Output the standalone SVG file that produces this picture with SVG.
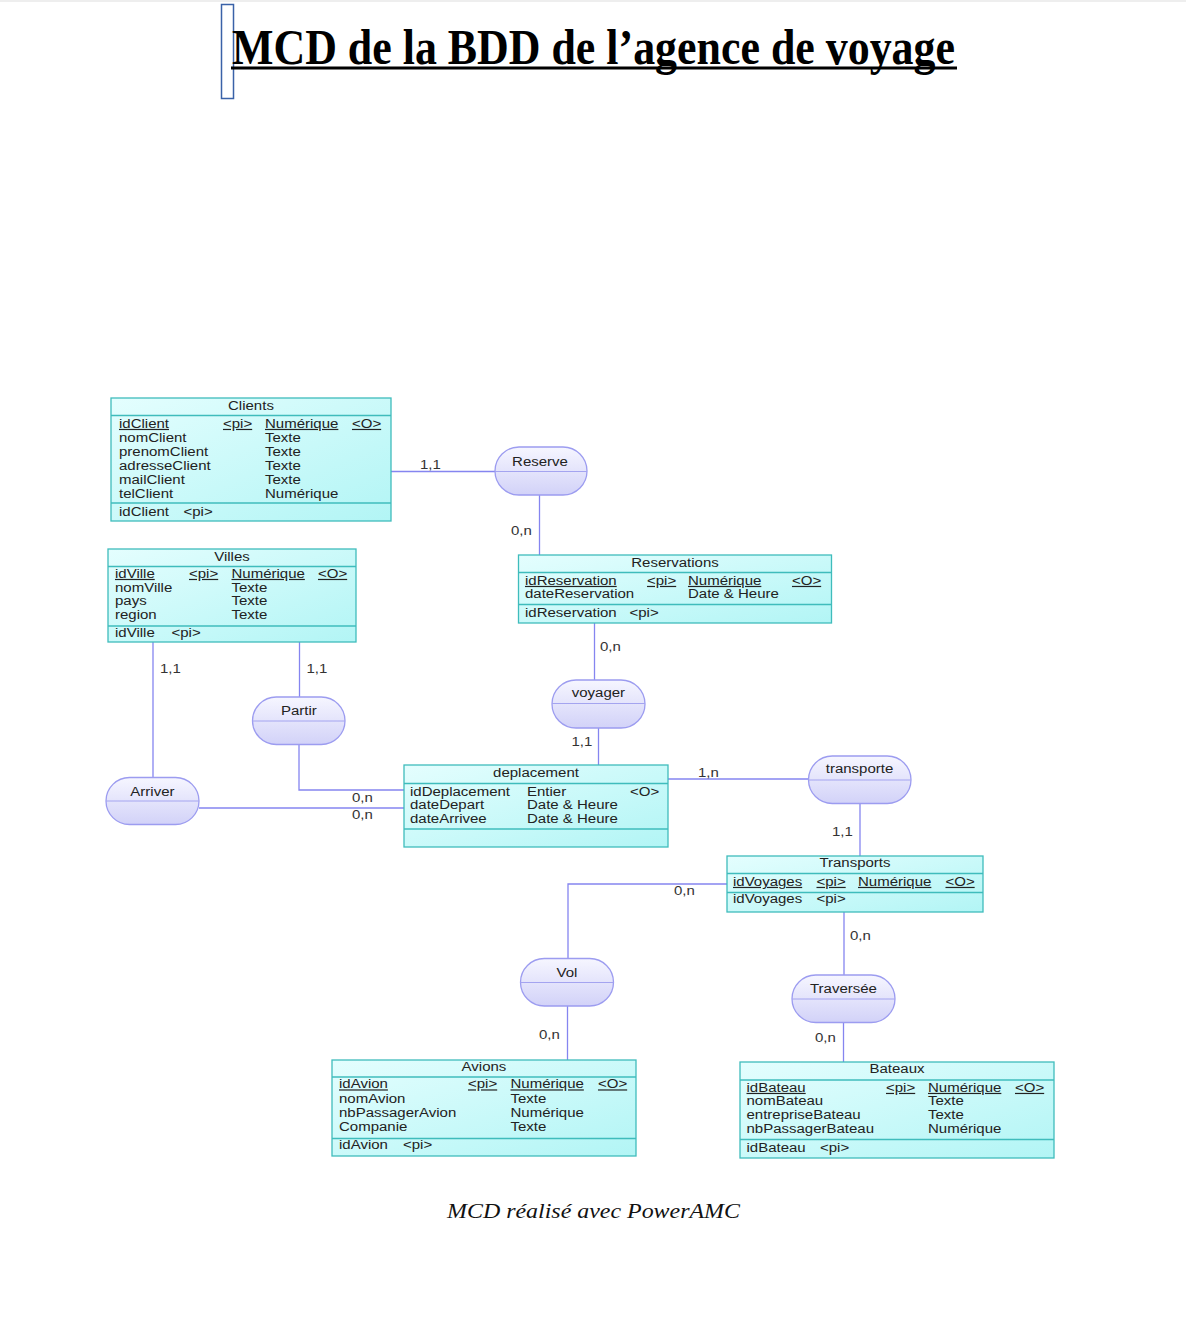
<svg xmlns="http://www.w3.org/2000/svg" width="1186" height="1320" viewBox="0 0 1186 1320">
<defs>
<linearGradient id="gEnt" x1="0" y1="0" x2="1" y2="1">
<stop offset="0" stop-color="#e4fefe"/>
<stop offset="1" stop-color="#b2f5f5"/>
</linearGradient>
<linearGradient id="gRel" x1="0" y1="0" x2="0" y2="1">
<stop offset="0" stop-color="#f6f6ff"/>
<stop offset="1" stop-color="#d2d2f8"/>
</linearGradient>
<style>
.t { font-family: "Liberation Sans", Arial, sans-serif; font-size: 12px; fill: #222; transform-box: fill-box; transform-origin: 0 0; transform: scaleX(1.25); }
.c { text-anchor: middle; transform-origin: 50% 50%; }
.u { text-decoration: underline; }
.ent { fill: url(#gEnt); stroke: #3fbcbc; stroke-width: 1.3; }
.sep { stroke: #3fbcbc; stroke-width: 1.3; }
.rel { fill: url(#gRel); stroke: #9c9cf0; stroke-width: 1.3; }
.rsep { stroke: #a4a4f0; stroke-width: 1; }
.ln { stroke: #8585f0; stroke-width: 1.3; fill: none; }
.lbl { fill: #333; }
</style>
</defs>
<rect x="0" y="0" width="1186" height="1320" fill="#ffffff"/>
<rect x="0" y="0" width="1186" height="2" fill="#eeeeee"/>

<g id="title">
<rect x="221.5" y="4.5" width="12" height="94" fill="none" stroke="#3a62a8" stroke-width="1.5"/>
<text x="232" y="64" font-family="'Liberation Serif', 'Times New Roman', serif" font-weight="bold" font-size="50" textLength="723" lengthAdjust="spacingAndGlyphs" fill="#000">MCD de la BDD de l’agence de voyage</text>
<rect x="231" y="66.5" width="726" height="3" fill="#000"/>
</g>

<g id="connectors">
<path class="ln" d="M391,471.5 H495"/>
<path class="ln" d="M539.5,495 V555"/>
<path class="ln" d="M594.5,623 V680"/>
<path class="ln" d="M598.5,728 V765"/>
<path class="ln" d="M668,779 H808.5"/>
<path class="ln" d="M860,803.5 V856"/>
<path class="ln" d="M727,884 H568 V958.5"/>
<path class="ln" d="M567.5,1006 V1060"/>
<path class="ln" d="M844,912 V975"/>
<path class="ln" d="M843.5,1022.5 V1062"/>
<path class="ln" d="M153,642 V777.5"/>
<path class="ln" d="M299.5,642 V697"/>
<path class="ln" d="M299,744.5 V790 H404"/>
<path class="ln" d="M199,808 H404"/>
<text class="t lbl" x="420" y="469">1,1</text>
<text class="t lbl" x="511" y="535">0,n</text>
<text class="t lbl" x="600" y="651">0,n</text>
<text class="t lbl" x="571.5" y="746">1,1</text>
<text class="t lbl" x="698" y="777">1,n</text>
<text class="t lbl" x="832" y="836">1,1</text>
<text class="t lbl" x="674" y="895">0,n</text>
<text class="t lbl" x="539" y="1039.5">0,n</text>
<text class="t lbl" x="850" y="940">0,n</text>
<text class="t lbl" x="815" y="1042">0,n</text>
<text class="t lbl" x="160" y="673">1,1</text>
<text class="t lbl" x="306.5" y="673">1,1</text>
<text class="t lbl" x="352" y="802">0,n</text>
<text class="t lbl" x="352" y="819.5">0,n</text>
</g>

<g id="clients">
<rect class="ent" x="111" y="398" width="280" height="123"/>
<line class="sep" x1="111" y1="415.5" x2="391" y2="415.5"/>
<line class="sep" x1="111" y1="503" x2="391" y2="503"/>
<text class="t c" x="251" y="410">Clients</text>
<text class="t u" x="119" y="428">idClient</text>
<text class="t u" x="223" y="428">&lt;pi&gt;</text>
<text class="t u" x="265" y="428">Numérique</text>
<text class="t u" x="352" y="428">&lt;O&gt;</text>
<text class="t" x="119" y="442">nomClient</text>
<text class="t" x="265" y="442">Texte</text>
<text class="t" x="119" y="456">prenomClient</text>
<text class="t" x="265" y="456">Texte</text>
<text class="t" x="119" y="470">adresseClient</text>
<text class="t" x="265" y="470">Texte</text>
<text class="t" x="119" y="484">mailClient</text>
<text class="t" x="265" y="484">Texte</text>
<text class="t" x="119" y="498">telClient</text>
<text class="t" x="265" y="498">Numérique</text>
<text class="t" x="119" y="516">idClient</text>
<text class="t" x="183.5" y="516">&lt;pi&gt;</text>
</g>

<g id="villes">
<rect class="ent" x="108" y="549" width="248" height="93"/>
<line class="sep" x1="108" y1="566.5" x2="356" y2="566.5"/>
<line class="sep" x1="108" y1="626" x2="356" y2="626"/>
<text class="t c" x="232" y="561">Villes</text>
<text class="t u" x="115" y="578">idVille</text>
<text class="t u" x="189" y="578">&lt;pi&gt;</text>
<text class="t u" x="231.5" y="578">Numérique</text>
<text class="t u" x="318" y="578">&lt;O&gt;</text>
<text class="t" x="115" y="592">nomVille</text>
<text class="t" x="231.5" y="592">Texte</text>
<text class="t" x="115" y="605.5">pays</text>
<text class="t" x="231.5" y="605.5">Texte</text>
<text class="t" x="115" y="619.5">region</text>
<text class="t" x="231.5" y="619.5">Texte</text>
<text class="t" x="115" y="637.5">idVille</text>
<text class="t" x="171.5" y="637.5">&lt;pi&gt;</text>
</g>

<g id="reservations">
<rect class="ent" x="518.5" y="555" width="313" height="68"/>
<line class="sep" x1="518.5" y1="572.5" x2="831.5" y2="572.5"/>
<line class="sep" x1="518.5" y1="604.5" x2="831.5" y2="604.5"/>
<text class="t c" x="675" y="567">Reservations</text>
<text class="t u" x="525" y="585">idReservation</text>
<text class="t u" x="647" y="585">&lt;pi&gt;</text>
<text class="t u" x="688" y="585">Numérique</text>
<text class="t u" x="792" y="585">&lt;O&gt;</text>
<text class="t" x="525" y="598.5">dateReservation</text>
<text class="t" x="688" y="598.5">Date &amp; Heure</text>
<text class="t" x="525" y="617">idReservation</text>
<text class="t" x="629.5" y="617">&lt;pi&gt;</text>
</g>

<g id="deplacement">
<rect class="ent" x="404" y="765" width="264" height="82"/>
<line class="sep" x1="404" y1="783.5" x2="668" y2="783.5"/>
<line class="sep" x1="404" y1="829" x2="668" y2="829"/>
<text class="t c" x="536" y="777">deplacement</text>
<text class="t" x="410" y="796">idDeplacement</text>
<text class="t" x="527" y="796">Entier</text>
<text class="t" x="630" y="796">&lt;O&gt;</text>
<text class="t" x="410" y="809.5">dateDepart</text>
<text class="t" x="527" y="809.5">Date &amp; Heure</text>
<text class="t" x="410" y="823">dateArrivee</text>
<text class="t" x="527" y="823">Date &amp; Heure</text>
</g>

<g id="transports">
<rect class="ent" x="727" y="856" width="256" height="56"/>
<line class="sep" x1="727" y1="873.5" x2="983" y2="873.5"/>
<line class="sep" x1="727" y1="892.5" x2="983" y2="892.5"/>
<text class="t c" x="855" y="867.5">Transports</text>
<text class="t u" x="733" y="886">idVoyages</text>
<text class="t u" x="816.5" y="886">&lt;pi&gt;</text>
<text class="t u" x="858" y="886">Numérique</text>
<text class="t u" x="945.5" y="886">&lt;O&gt;</text>
<text class="t" x="733" y="903.5">idVoyages</text>
<text class="t" x="816.5" y="903.5">&lt;pi&gt;</text>
</g>

<g id="avions">
<rect class="ent" x="332" y="1060" width="304" height="96"/>
<line class="sep" x1="332" y1="1077" x2="636" y2="1077"/>
<line class="sep" x1="332" y1="1138.5" x2="636" y2="1138.5"/>
<text class="t c" x="484" y="1071">Avions</text>
<text class="t u" x="339" y="1088.5">idAvion</text>
<text class="t u" x="468" y="1088.5">&lt;pi&gt;</text>
<text class="t u" x="510.5" y="1088.5">Numérique</text>
<text class="t u" x="598" y="1088.5">&lt;O&gt;</text>
<text class="t" x="339" y="1103">nomAvion</text>
<text class="t" x="510.5" y="1103">Texte</text>
<text class="t" x="339" y="1117">nbPassagerAvion</text>
<text class="t" x="510.5" y="1117">Numérique</text>
<text class="t" x="339" y="1131">Companie</text>
<text class="t" x="510.5" y="1131">Texte</text>
<text class="t" x="339" y="1149">idAvion</text>
<text class="t" x="403" y="1149">&lt;pi&gt;</text>
</g>

<g id="bateaux">
<rect class="ent" x="740" y="1062" width="314" height="96"/>
<line class="sep" x1="740" y1="1080" x2="1054" y2="1080"/>
<line class="sep" x1="740" y1="1139.5" x2="1054" y2="1139.5"/>
<text class="t c" x="897" y="1073.5">Bateaux</text>
<text class="t u" x="746.5" y="1092">idBateau</text>
<text class="t u" x="886" y="1092">&lt;pi&gt;</text>
<text class="t u" x="928" y="1092">Numérique</text>
<text class="t u" x="1015" y="1092">&lt;O&gt;</text>
<text class="t" x="746.5" y="1105.5">nomBateau</text>
<text class="t" x="928" y="1105.5">Texte</text>
<text class="t" x="746.5" y="1119.5">entrepriseBateau</text>
<text class="t" x="928" y="1119.5">Texte</text>
<text class="t" x="746.5" y="1133.5">nbPassagerBateau</text>
<text class="t" x="928" y="1133.5">Numérique</text>
<text class="t" x="746.5" y="1152">idBateau</text>
<text class="t" x="820" y="1152">&lt;pi&gt;</text>
</g>

<g id="reserve">
<rect class="rel" x="495" y="447" width="92" height="48" rx="24" ry="24"/>
<line class="rsep" x1="495" y1="471.5" x2="587" y2="471.5"/>
<text class="t c" x="540" y="466">Reserve</text>
</g>
<g id="voyager">
<rect class="rel" x="552" y="680" width="93" height="48" rx="24" ry="24"/>
<line class="rsep" x1="552" y1="703.5" x2="645" y2="703.5"/>
<text class="t c" x="598.5" y="697">voyager</text>
</g>
<g id="transporte">
<rect class="rel" x="808.5" y="756" width="102.5" height="47.5" rx="23.75" ry="23.75"/>
<line class="rsep" x1="808.5" y1="780" x2="911" y2="780"/>
<text class="t c" x="859.5" y="773.5">transporte</text>
</g>
<g id="vol">
<rect class="rel" x="520.5" y="958.5" width="93" height="47.5" rx="23.75" ry="23.75"/>
<line class="rsep" x1="520.5" y1="982.5" x2="613.5" y2="982.5"/>
<text class="t c" x="567" y="977">Vol</text>
</g>
<g id="traversee">
<rect class="rel" x="792" y="975" width="103" height="47.5" rx="23.75" ry="23.75"/>
<line class="rsep" x1="792" y1="999" x2="895" y2="999"/>
<text class="t c" x="843.5" y="993.5">Traversée</text>
</g>
<g id="partir">
<rect class="rel" x="252.5" y="697" width="92.5" height="47.5" rx="23.75" ry="23.75"/>
<line class="rsep" x1="252.5" y1="721" x2="345" y2="721"/>
<text class="t c" x="299" y="715">Partir</text>
</g>
<g id="arriver">
<rect class="rel" x="106" y="777.5" width="93" height="47" rx="23.5" ry="23.5"/>
<line class="rsep" x1="106" y1="801" x2="199" y2="801"/>
<text class="t c" x="152.5" y="796">Arriver</text>
</g>

<g id="caption">
<text x="447" y="1218" font-family="'Liberation Serif', 'Times New Roman', serif" font-style="italic" font-size="22" textLength="293" lengthAdjust="spacingAndGlyphs" fill="#111">MCD réalisé avec PowerAMC</text>
</g>
</svg>
